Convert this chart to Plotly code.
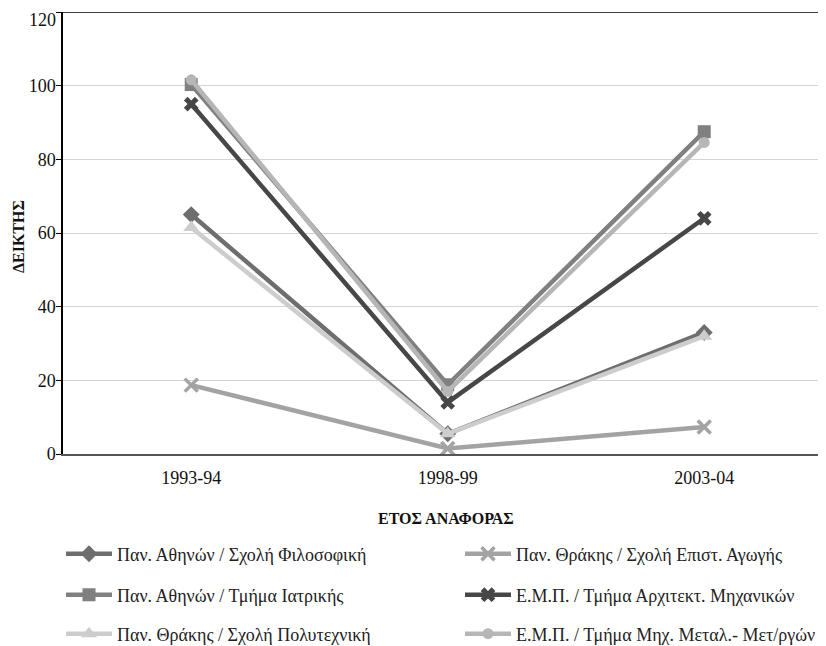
import plotly.graph_objects as go

years = ["1993-94", "1998-99", "2003-04"]
names = [
    "Παν. Αθηνών / Σχολή Φιλοσοφική",
    "Παν. Αθηνών / Τμήμα Ιατρικής",
    "Παν. Θράκης / Σχολή Πολυτεχνική",
    "Παν. Θράκης / Σχολή Επιστ. Αγωγής",
    "Ε.Μ.Π. / Τμήμα Αρχιτεκτ. Μηχανικών",
    "Ε.Μ.Π. / Τμήμα Μηχ. Μεταλ.- Μετ/ργών",
]
filosofiki = [65, 5.5, 33]
iatriki = [100.3, 18.8, 87.5]
polytechniki = [61.5, 5.5, 32]
epist_agogis = [18.7, 1.5, 7.3]
architekt = [95, 14, 64]
metal = [101.6, 17, 84.6]

y_ticks = [0, 20, 40, 60, 80, 100, 120]
y_max = 120

series = [filosofiki, iatriki, polytechniki, epist_agogis, architekt, metal]
colors = ["#6e6e6e", "#808080", "#cdcdcd", "#a3a3a3", "#474747", "#b6b6b6"]
symbols = ["diamond", "square", "triangle-up", "x-thin", "x", "circle"]
sizes = [13, 13, 14, 13, 13, 11]

font_family = "Liberation Serif, Times New Roman, serif"

W, H = 826, 646
L, T, B = 55, 4, 200
PW, PH = W - L, H - T - B
# legend item positions (figure pixels): left x, centre y
leg_pos = [(53, 546), (53, 587), (53, 626), (452, 546), (452, 587), (452, 626)]

fig = go.Figure()
layout_legends = {}
for i, vals in enumerate(series):
    marker = dict(symbol=symbols[i], size=sizes[i], color=colors[i])
    if symbols[i] == "x-thin":
        marker["line"] = dict(width=3.5, color=colors[i])
    else:
        marker["line"] = dict(width=0)
    lname = "legend" if i == 0 else f"legend{i+1}"
    fig.add_trace(go.Scatter(
        x=years, y=vals, name=names[i], mode="lines+markers",
        line=dict(color=colors[i], width=4.5),
        marker=marker, legend=lname,
    ))
    lx, ly = leg_pos[i]
    layout_legends[lname] = dict(
        x=lx / W, y=(H - ly) / H, xref="container", yref="container",
        xanchor="left", yanchor="middle", orientation="v", itemwidth=46,
        font=dict(family=font_family, size=18, color="#222"),
        bgcolor="rgba(0,0,0,0)",
    )

# the top tick label would be clipped by the page edge, so draw it as an annotation
tick_text = [str(v) if v != y_max else "" for v in y_ticks]

fig.update_layout(
    width=W, height=H,
    margin=dict(l=L, r=0, t=T, b=B, autoexpand=False),
    paper_bgcolor="white", plot_bgcolor="white",
    font=dict(family=font_family, size=18, color="#111"),
    showlegend=True,
    xaxis=dict(
        type="category", range=[-0.5, 2.506], automargin=False,
        showgrid=False, showline=True, linecolor="#555", linewidth=2,
        ticks="", ticklabelstandoff=6,
        tickfont=dict(family=font_family, size=18, color="#111"),
        zeroline=False,
    ),
    yaxis=dict(
        range=[0, y_max], tickmode="array", tickvals=y_ticks, ticktext=tick_text,
        showgrid=True, gridcolor="#d4d4d4", gridwidth=1,
        showline=True, linecolor="#000", linewidth=1.5, automargin=False,
        ticks="outside", ticklen=5, tickcolor="#000",
        ticklabelstandoff=-3,
        tickfont=dict(family=font_family, size=18, color="#111"),
        zeroline=False,
    ),
    annotations=[
        dict(text=str(y_max), xref="paper", yref="y", x=0, y=y_max,
             xanchor="right", yanchor="top", xshift=-5, yshift=4, showarrow=False,
             font=dict(family=font_family, size=18, color="#111")),
        dict(text="<b>ΕΤΟΣ ΑΝΑΦΟΡΑΣ</b>", xref="paper", yref="paper",
             x=(438 - L) / PW, y=(H - B - 511) / PH, showarrow=False,
             xanchor="center", yanchor="middle",
             font=dict(family=font_family, size=16, color="#111")),
        dict(text="<b>ΔΕΙΚΤΗΣ</b>", xref="paper", yref="paper",
             x=(10 - L) / PW, y=(H - B - 229) / PH, showarrow=False, textangle=-90,
             xanchor="center", yanchor="middle",
             font=dict(family=font_family, size=16, color="#111")),
    ],
    shapes=[dict(type="line", xref="paper", yref="y", x0=0, x1=1, y0=y_max, y1=y_max,
                 line=dict(color="#000", width=1.5))],
    **layout_legends,
)

fig.write_html("out.html")
